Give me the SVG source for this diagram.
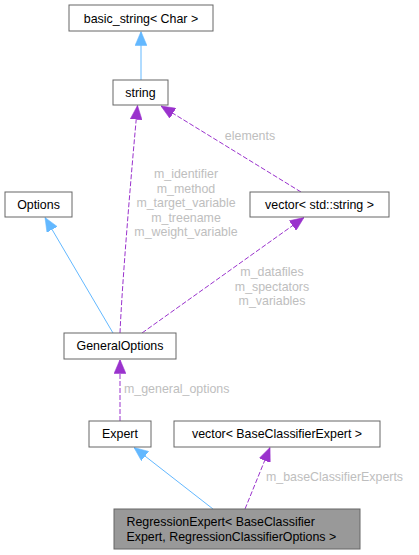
<svg xmlns="http://www.w3.org/2000/svg" width="419" height="555" viewBox="0 0 419 555">
<style>
.node rect{fill:#ffffff;stroke:#666666;stroke-width:1}
.node.hl rect{fill:#999999}
.node text{font-family:"Liberation Sans",Arial,Helvetica,sans-serif;font-size:12.4px;fill:#000000}
.edges path.inh{fill:none;stroke:#63b8ff;stroke-width:1}
.edges path.use{fill:none;stroke:#9a32cd;stroke-width:1;stroke-dasharray:5,2}
.lbl{font-family:"Liberation Sans",Arial,Helvetica,sans-serif;font-size:12.4px;fill:#bebebe}
</style>
<defs>
<marker id="ab" markerUnits="userSpaceOnUse" markerWidth="14" markerHeight="12" viewBox="0 0 13 11" refX="13" refY="5.5" orient="auto">
<path d="M0,0 L13,5.5 L0,11 Z" fill="#63b8ff" stroke="#63b8ff" stroke-width="0.5"/>
</marker>
<marker id="ap" markerUnits="userSpaceOnUse" markerWidth="14" markerHeight="12" viewBox="0 0 13 11" refX="13" refY="5.5" orient="auto">
<path d="M0,0 L13,5.5 L0,11 Z" fill="#9a32cd" stroke="#9a32cd" stroke-width="0.5"/>
</marker>
</defs>
<rect width="419" height="555" fill="#ffffff"/>
<g class="edges">
<path class="inh" d="M141,80 L141,31.5" marker-end="url(#ab)"/>
<path class="use" d="M120,333 C122,285 131,175 137.5,105.5" marker-end="url(#ap)"/>
<path class="use" d="M301,192 L161,106" marker-end="url(#ap)"/>
<path class="use" d="M142,333 L304,217.5" marker-end="url(#ap)"/>
<path class="inh" d="M113,333 L45,217.5" marker-end="url(#ab)"/>
<path class="use" d="M120,421 L120,359.5" marker-end="url(#ap)"/>
<path class="inh" d="M213,509 L134,447.5" marker-end="url(#ab)"/>
<path class="use" d="M245,509 L270,447.5" marker-end="url(#ap)"/>
<text class="lbl" x="250" y="140" text-anchor="middle">elements</text>
<text class="lbl" text-anchor="middle"><tspan x="186" y="178">m_identifier</tspan><tspan x="186" y="192.5">m_method</tspan><tspan x="186" y="207">m_target_variable</tspan><tspan x="186" y="221.5">m_treename</tspan><tspan x="186" y="236">m_weight_variable</tspan></text>
<text class="lbl" text-anchor="middle"><tspan x="272" y="276">m_datafiles</tspan><tspan x="272" y="290.5">m_spectators</tspan><tspan x="272" y="305">m_variables</tspan></text>
<text class="lbl" x="124" y="393">m_general_options</text>
<text class="lbl" x="266" y="481">m_baseClassifierExperts</text>
</g>
<g id="basic_string" class="node"><rect x="69" y="5" width="144" height="26"/><text x="141" y="22.5" text-anchor="middle">basic_string&lt; Char &gt;</text></g>
<g id="string" class="node"><rect x="113" y="80" width="55" height="25"/><text x="140.5" y="97" text-anchor="middle">string</text></g>
<g id="Options" class="node"><rect x="5" y="192" width="67" height="25"/><text x="38.5" y="209" text-anchor="middle">Options</text></g>
<g id="vector_string" class="node"><rect x="250" y="192" width="139" height="25"/><text x="319.5" y="209" text-anchor="middle">vector&lt; std::string &gt;</text></g>
<g id="GeneralOptions" class="node"><rect x="64" y="333" width="112" height="26"/><text x="120" y="350" text-anchor="middle">GeneralOptions</text></g>
<g id="Expert" class="node"><rect x="89" y="421" width="62" height="26"/><text x="120" y="438" text-anchor="middle">Expert</text></g>
<g id="vector_BaseClassifierExpert" class="node"><rect x="174" y="421" width="206" height="26"/><text x="277" y="438" text-anchor="middle">vector&lt; BaseClassifierExpert &gt;</text></g>
<g id="RegressionExpert" class="node hl"><rect x="114" y="509" width="246" height="40"/><text><tspan x="126.5" y="526">RegressionExpert&lt; BaseClassifier</tspan><tspan x="126.5" y="540.5">Expert, RegressionClassifierOptions &gt;</tspan></text></g>
</svg>
